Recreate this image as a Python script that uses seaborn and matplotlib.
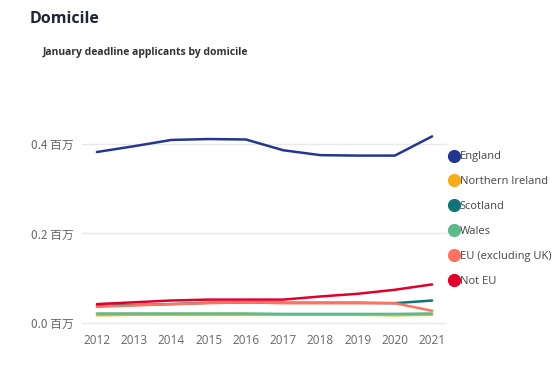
import matplotlib
matplotlib.use("Agg")
import matplotlib.pyplot as plt
from matplotlib.lines import Line2D
from matplotlib.ticker import FuncFormatter
import pandas as pd
import seaborn as sns

YEARS = list(range(2012, 2022))
DOMICILES = ["England", "Northern Ireland", "Scotland", "Wales", "EU (excluding UK)", "Not EU"]
COLORS = ["#24368f", "#f8ac1a", "#127479", "#5cba8b", "#fd7361", "#e0002b"]

# applicants, millions
ENGLAND = [0.382, 0.395, 0.409, 0.411, 0.410, 0.386, 0.375, 0.374, 0.374, 0.417]
NORTHERN_IRELAND = [0.017, 0.018, 0.018, 0.018, 0.018, 0.018, 0.018, 0.018, 0.017, 0.018]
SCOTLAND = [0.038, 0.040, 0.042, 0.045, 0.046, 0.045, 0.045, 0.045, 0.044, 0.050]
WALES = [0.021, 0.021, 0.021, 0.021, 0.021, 0.020, 0.020, 0.020, 0.020, 0.021]
EU = [0.036, 0.039, 0.042, 0.044, 0.046, 0.044, 0.044, 0.044, 0.044, 0.027]
NOT_EU = [0.042, 0.046, 0.050, 0.052, 0.052, 0.052, 0.059, 0.065, 0.074, 0.086]

SERIES = [ENGLAND, NORTHERN_IRELAND, SCOTLAND, WALES, EU, NOT_EU]

rows = []
for name, vals in zip(DOMICILES, SERIES):
    for year, v in zip(YEARS, vals):
        rows.append({"year": year, "domicile": name, "applicants": v})
df = pd.DataFrame(rows)

sns.set_theme(style="white")
plt.rcParams["font.family"] = ["Open Sans", "Noto Sans CJK SC", "DejaVu Sans"]

fig = plt.figure(figsize=(5.58, 3.67), dpi=100)
ax = fig.add_axes([82 / 558, 1 - 326 / 367, (447 - 82) / 558, (326 - 80) / 367])

palette = dict(zip(DOMICILES, COLORS))
sns.lineplot(data=df, x="year", y="applicants", hue="domicile", hue_order=DOMICILES,
             palette=palette, linewidth=1.8, legend=False, ax=ax)

ax.set_xlim(2011.6, 2021.4)
ax.set_ylim(-0.007, 0.543)
ax.set_xticks(YEARS)
ax.set_yticks([0.0, 0.2, 0.4])
ax.yaxis.set_major_formatter(FuncFormatter(lambda v, _: f"{v:.1f} 百万"))
ax.tick_params(axis="both", colors="#666666", labelsize=8.5, length=0, pad=6)
for lab in ax.get_yticklabels():
    lab.set_family(["Noto Sans CJK SC", "DejaVu Sans"])
ax.set_xlabel("")
ax.set_ylabel("")
ax.grid(axis="y", color="#e9e9e9", linewidth=1)
for s in ax.spines.values():
    s.set_visible(False)

handles = [Line2D([], [], marker="o", linestyle="", markersize=8.5, color=c) for c in COLORS]
leg = fig.legend(handles, DOMICILES, loc="upper left", bbox_to_anchor=(443 / 558, 1 - 147 / 367),
                 frameon=False, fontsize=8, handletextpad=-0.1, labelspacing=1.25,
                 borderaxespad=0, handlelength=1.2)
for t in leg.get_texts():
    t.set_color("#444444")

fig.text(30 / 558, 1 - 19 / 367, "Domicile", fontsize=11.5, fontweight="bold",
         color="#1e2533", va="center")
fig.text(43 / 558, 1 - 53 / 367, "January deadline applicants by domicile", fontsize=7.5,
         fontweight="bold", color="#333333", va="center")

fig.savefig("out.png", dpi=100)
